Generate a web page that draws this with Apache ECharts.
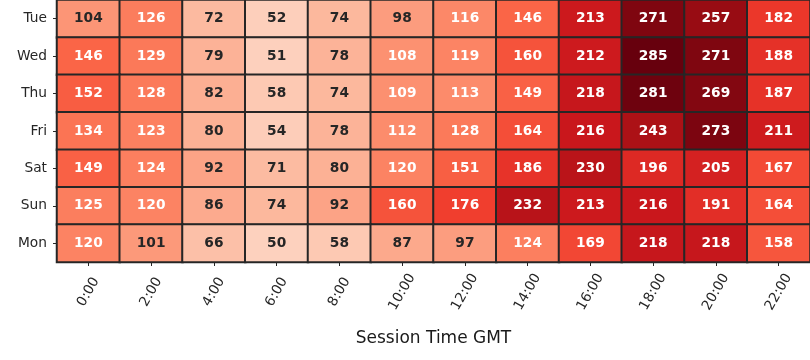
<!DOCTYPE html>
<html>
<head>
<meta charset="utf-8">
<script src="https://cdn.jsdelivr.net/npm/echarts@6/dist/echarts.min.js"></script>
<style>html,body{margin:0;padding:0;background:#fff;}#c{width:810px;height:360px;}</style>
</head>
<body>
<div id="c"></div>
<script>
var hours = ['0:00','2:00','4:00','6:00','8:00','10:00','12:00','14:00','16:00','18:00','20:00','22:00'];
var days = ['Tue','Wed','Thu','Fri','Sat','Sun','Mon'];
var tue = [104,126,72,52,74,98,116,146,213,271,257,182];
var wed = [146,129,79,51,78,108,119,160,212,285,271,188];
var thu = [152,128,82,58,74,109,113,149,218,281,269,187];
var fri = [134,123,80,54,78,112,128,164,216,243,273,211];
var sat = [149,124,92,71,80,120,151,186,230,196,205,167];
var sun = [125,120,86,74,92,160,176,232,213,216,191,164];
var mon = [120,101,66,50,58,87,97,124,169,218,218,158];
var rows = [tue, wed, thu, fri, sat, sun, mon];

var reds = ['#fff5f0','#fee0d2','#fcbba1','#fc9272','#fb6a4a','#ef3b2c','#cb181d','#a50f15','#67000d'];
var vmin = 0, vmax = 285;

function hex2rgb(h){return [parseInt(h.substr(1,2),16),parseInt(h.substr(3,2),16),parseInt(h.substr(5,2),16)];}
function cmap(v){
  var t = (v - vmin) / (vmax - vmin);
  t = Math.max(0, Math.min(1, t));
  var p = t * (reds.length - 1);
  var i = Math.min(Math.floor(p), reds.length - 2);
  var f = p - i;
  var a = hex2rgb(reds[i]), b = hex2rgb(reds[i+1]);
  return [a[0]+(b[0]-a[0])*f, a[1]+(b[1]-a[1])*f, a[2]+(b[2]-a[2])*f];
}
function lum(rgb){
  var c = rgb.map(function(x){x/=255; return x <= 0.03928 ? x/12.92 : Math.pow((x+0.055)/1.055, 2.4);});
  return 0.2126*c[0] + 0.7152*c[1] + 0.0722*c[2];
}

var data = [];
rows.forEach(function(r, yi){
  r.forEach(function(v, xi){
    var rgb = cmap(v);
    data.push({
      value: [xi, yi, v],
      itemStyle: {color: 'rgb(' + rgb.map(Math.round).join(',') + ')'},
      label: {color: lum(rgb) > 0.428 ? '#262626' : '#ffffff'}
    });
  });
});

var chart = echarts.init(document.getElementById('c'), null, {renderer: 'canvas'});
chart.setOption({
  animation: false,
  backgroundColor: '#ffffff',
  grid: {left: 57, right: 0, top: 0, bottom: 98},
  xAxis: {
    type: 'category',
    data: hours,
    axisLine: {show: false},
    axisTick: {show: true, alignWithLabel: true, length: 4, lineStyle: {color: '#262626', width: 1}},
    axisLabel: {rotate: 60, align: 'center', verticalAlign: 'middle', fontFamily: 'DejaVu Sans', fontSize: 13.75, color: '#262626', margin: 30},
    splitLine: {show: false},
    name: 'Session Time GMT',
    nameLocation: 'middle',
    nameGap: 68,
    nameTextStyle: {fontFamily: 'DejaVu Sans', fontSize: 17, color: '#1a1a1a'}
  },
  yAxis: {
    type: 'category',
    data: days,
    inverse: true,
    axisLine: {show: false},
    axisTick: {show: true, alignWithLabel: true, length: 4, lineStyle: {color: '#262626', width: 1}},
    axisLabel: {fontFamily: 'DejaVu Sans', fontSize: 13.75, color: '#262626', margin: 10},
    splitLine: {show: false}
  },
  series: [{
    type: 'heatmap',
    data: data,
    label: {
      show: true,
      fontFamily: 'DejaVu Sans',
      fontWeight: 'bold',
      fontSize: 13.75,
      formatter: function(p){return p.value[2];}
    },
    itemStyle: {borderColor: '#262626', borderWidth: 2},
    emphasis: {disabled: true}
  }]
});
</script>
</body>
</html>
